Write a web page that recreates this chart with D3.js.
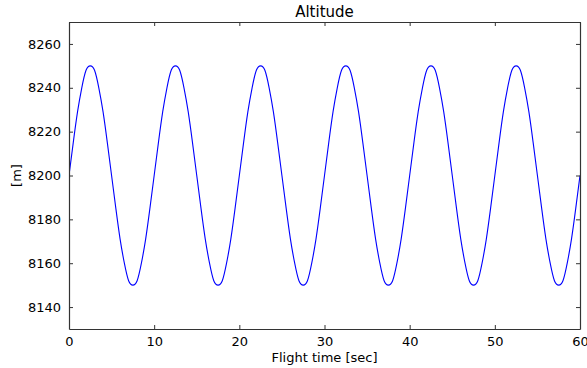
<!DOCTYPE html>
<html>
<head>
<meta charset="utf-8">
<script src="https://cdn.jsdelivr.net/npm/d3@7.9.0/dist/d3.min.js"></script>
<style>
  body { margin: 0; background: #fff; }
  svg text { font-family: 'DejaVu Sans', sans-serif; fill: #000; }
</style>
</head>
<body>
<svg id="chart" width="587" height="368"></svg>
<script>
// flight time samples [sec], every 0.5 s
const times = d3.range(0, 60.001, 0.5);
// altitude [m]
const altitude = [
  8200, 8215, 8229, 8240, 8248, 8250, 8248, 8240, 8229, 8215,
  8200, 8185, 8171, 8160, 8152, 8150, 8152, 8160, 8171, 8185,
  8200, 8215, 8229, 8240, 8248, 8250, 8248, 8240, 8229, 8215,
  8200, 8185, 8171, 8160, 8152, 8150, 8152, 8160, 8171, 8185,
  8200, 8215, 8229, 8240, 8248, 8250, 8248, 8240, 8229, 8215,
  8200, 8185, 8171, 8160, 8152, 8150, 8152, 8160, 8171, 8185,
  8200, 8215, 8229, 8240, 8248, 8250, 8248, 8240, 8229, 8215,
  8200, 8185, 8171, 8160, 8152, 8150, 8152, 8160, 8171, 8185,
  8200, 8215, 8229, 8240, 8248, 8250, 8248, 8240, 8229, 8215,
  8200, 8185, 8171, 8160, 8152, 8150, 8152, 8160, 8171, 8185,
  8200, 8215, 8229, 8240, 8248, 8250, 8248, 8240, 8229, 8215,
  8200, 8185, 8171, 8160, 8152, 8150, 8152, 8160, 8171, 8185,
  8200
];
const xTicks = [0, 10, 20, 30, 40, 50, 60];
const yTicks = [8140, 8160, 8180, 8200, 8220, 8240, 8260];

const svg = d3.select('#chart');
const plotLeft = 69, plotRight = 580, plotTop = 22, plotBottom = 329;

const x = d3.scaleLinear().domain([0, 60]).range([plotLeft, plotRight]);
const y = d3.scaleLinear().domain([8130, 8270]).range([plotBottom, plotTop]);

// data line, clipped to the axes
svg.append('clipPath').attr('id', 'clip')
  .append('rect')
  .attr('x', plotLeft).attr('y', plotTop)
  .attr('width', plotRight - plotLeft).attr('height', plotBottom - plotTop);

const line = d3.line()
  .x((d, i) => x(times[i]))
  .y((d) => y(d))
  .curve(d3.curveNatural);

svg.append('path')
  .datum(altitude)
  .attr('clip-path', 'url(#clip)')
  .attr('d', line)
  .attr('fill', 'none')
  .attr('stroke', '#0000ff')
  .attr('stroke-width', 1.1);

// axes, ticks pointing inward on every side
const tickLen = 4;
const bottomAxis = svg.append('g').attr('transform', `translate(0,${plotBottom})`)
  .call(d3.axisBottom(x).tickValues(xTicks).tickSizeInner(-tickLen).tickSizeOuter(0).tickPadding(8));
const topAxis = svg.append('g').attr('transform', `translate(0,${plotTop})`)
  .call(d3.axisTop(x).tickValues(xTicks).tickSizeInner(-tickLen).tickSizeOuter(0).tickFormat(''));
const leftAxis = svg.append('g').attr('transform', `translate(${plotLeft},0)`)
  .call(d3.axisLeft(y).tickValues(yTicks).tickFormat(d3.format('d'))
    .tickSizeInner(-tickLen).tickSizeOuter(0).tickPadding(8));
const rightAxis = svg.append('g').attr('transform', `translate(${plotRight},0)`)
  .call(d3.axisRight(y).tickValues(yTicks).tickSizeInner(-tickLen).tickSizeOuter(0).tickFormat(''));

[bottomAxis, topAxis, leftAxis, rightAxis].forEach((g) => {
  g.select('.domain').attr('stroke', '#333').attr('stroke-width', 1.2);
  g.selectAll('.tick line').attr('stroke', '#333');
  g.selectAll('.tick text').attr('font-size', 13).attr('fill', '#000')
    .style('font-family', "'DejaVu Sans', sans-serif");
});

svg.append('text')
  .attr('x', (plotLeft + plotRight) / 2).attr('y', 17)
  .attr('text-anchor', 'middle')
  .attr('font-size', 15)
  .text('Altitude');

svg.append('text')
  .attr('x', (plotLeft + plotRight) / 2).attr('y', 362)
  .attr('text-anchor', 'middle')
  .attr('font-size', 13)
  .text('Flight time [sec]');

svg.append('text')
  .attr('transform', `translate(21,${(plotTop + plotBottom) / 2}) rotate(-90)`)
  .attr('text-anchor', 'middle')
  .attr('font-size', 13)
  .text('[m]');
</script>
</body>
</html>
